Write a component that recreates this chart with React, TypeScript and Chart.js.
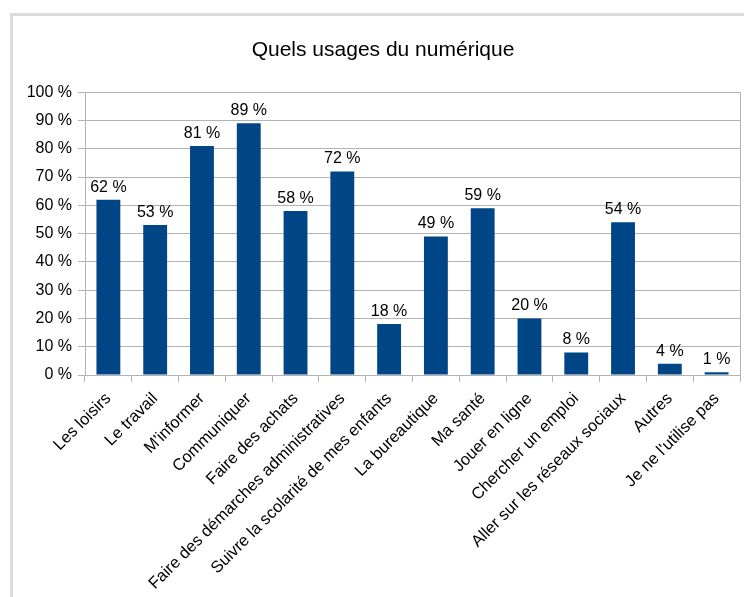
import React, { useEffect, useRef } from "react";
import { Chart, registerables } from "chart.js";

Chart.register(...registerables);

const TITLE = "Quels usages du numérique";
const CATEGORIES = [
  "Les loisirs",
  "Le travail",
  "M'informer",
  "Communiquer",
  "Faire des achats",
  "Faire des démarches administratives",
  "Suivre la scolarité de mes enfants",
  "La bureautique",
  "Ma santé",
  "Jouer en ligne",
  "Chercher un emploi",
  "Aller sur les réseaux sociaux",
  "Autres",
  "Je ne l'utilise pas",
];
const VALUES = [62, 53, 81, 89, 58, 72, 18, 49, 59, 20, 8, 54, 4, 1];
const Y_MIN = 0;
const Y_MAX = 100;
const Y_STEP = 10;

const FONT = "'Liberation Sans', Arial, sans-serif";
const BAR_COLOR = "#004586";
const GRID_COLOR = "#b3b3b3";
const TEXT_COLOR = "#000000";

const valueLabels = {
  id: "valueLabels",
  afterDatasetsDraw(chart: any) {
    const { ctx } = chart;
    const meta = chart.getDatasetMeta(0);
    const data = chart.data.datasets[0].data as number[];
    ctx.save();
    ctx.font = `16px ${FONT}`;
    ctx.fillStyle = TEXT_COLOR;
    ctx.textAlign = "center";
    ctx.textBaseline = "alphabetic";
    meta.data.forEach((el: any, i: number) => {
      ctx.fillText(`${data[i]} %`, el.x, el.y - 8);
    });
    ctx.restore();
  },
};

export default function App() {
  const ref = useRef<HTMLCanvasElement | null>(null);

  useEffect(() => {
    document.documentElement.style.overflow = "hidden";
    document.body.style.overflow = "hidden";
    const chart = new Chart(ref.current as HTMLCanvasElement, {
      type: "bar",
      data: {
        labels: CATEGORIES,
        datasets: [
          {
            data: VALUES,
            backgroundColor: BAR_COLOR,
            borderWidth: 0,
            categoryPercentage: 1,
            barPercentage: 0.51,
          },
        ],
      },
      plugins: [valueLabels],
      options: {
        animation: false,
        responsive: false,
        devicePixelRatio: 1,
        layout: { padding: { left: 0, right: 0, top: 0, bottom: 0 } },
        plugins: {
          legend: { display: false },
          tooltip: { enabled: false },
          title: {
            display: true,
            text: TITLE,
            color: TEXT_COLOR,
            font: { family: FONT, size: 21, weight: "normal" },
            padding: { top: 38, bottom: 29 },
          },
        },
        scales: {
          x: {
            offset: true,
            grid: {
              offset: true,
              drawOnChartArea: false,
              drawTicks: true,
              tickLength: 7,
              color: GRID_COLOR,
            },
            border: { display: true, color: GRID_COLOR },
            ticks: {
              autoSkip: false,
              minRotation: 45,
              maxRotation: 45,
              color: TEXT_COLOR,
              font: { family: FONT, size: 16.5 },
              padding: 7,
            },
            afterFit: (s: any) => {
              s.height = 222;
            },
          },
          y: {
            min: Y_MIN,
            max: Y_MAX,
            grid: {
              color: GRID_COLOR,
              drawTicks: true,
              tickLength: 7,
            },
            border: { display: true, color: GRID_COLOR },
            ticks: {
              stepSize: Y_STEP,
              color: TEXT_COLOR,
              font: { family: FONT, size: 16 },
              padding: 6,
              callback: (v: any) => `${v} %`,
            },
            afterFit: (s: any) => {
              s.width = 85;
            },
          },
          y2: {
            position: "right",
            min: Y_MIN,
            max: Y_MAX,
            grid: { drawOnChartArea: false, drawTicks: false },
            border: { display: true, color: GRID_COLOR },
            ticks: { display: false },
            afterFit: (s: any) => {
              s.width = 26;
            },
          },
        },
      },
    } as any);
    return () => chart.destroy();
  }, []);

  return (
    <div>
      <div
        style={{
          position: "fixed",
          left: 10,
          top: 13,
          width: 900,
          height: 900,
          borderLeft: "3px solid #dcdcdc",
          borderTop: "3px solid #dcdcdc",
          boxSizing: "border-box",
        }}
      />
      <canvas
        ref={ref}
        width={766}
        height={597}
        style={{ position: "fixed", left: 0, top: 0, width: 766, height: 597 }}
      />
    </div>
  );
}
